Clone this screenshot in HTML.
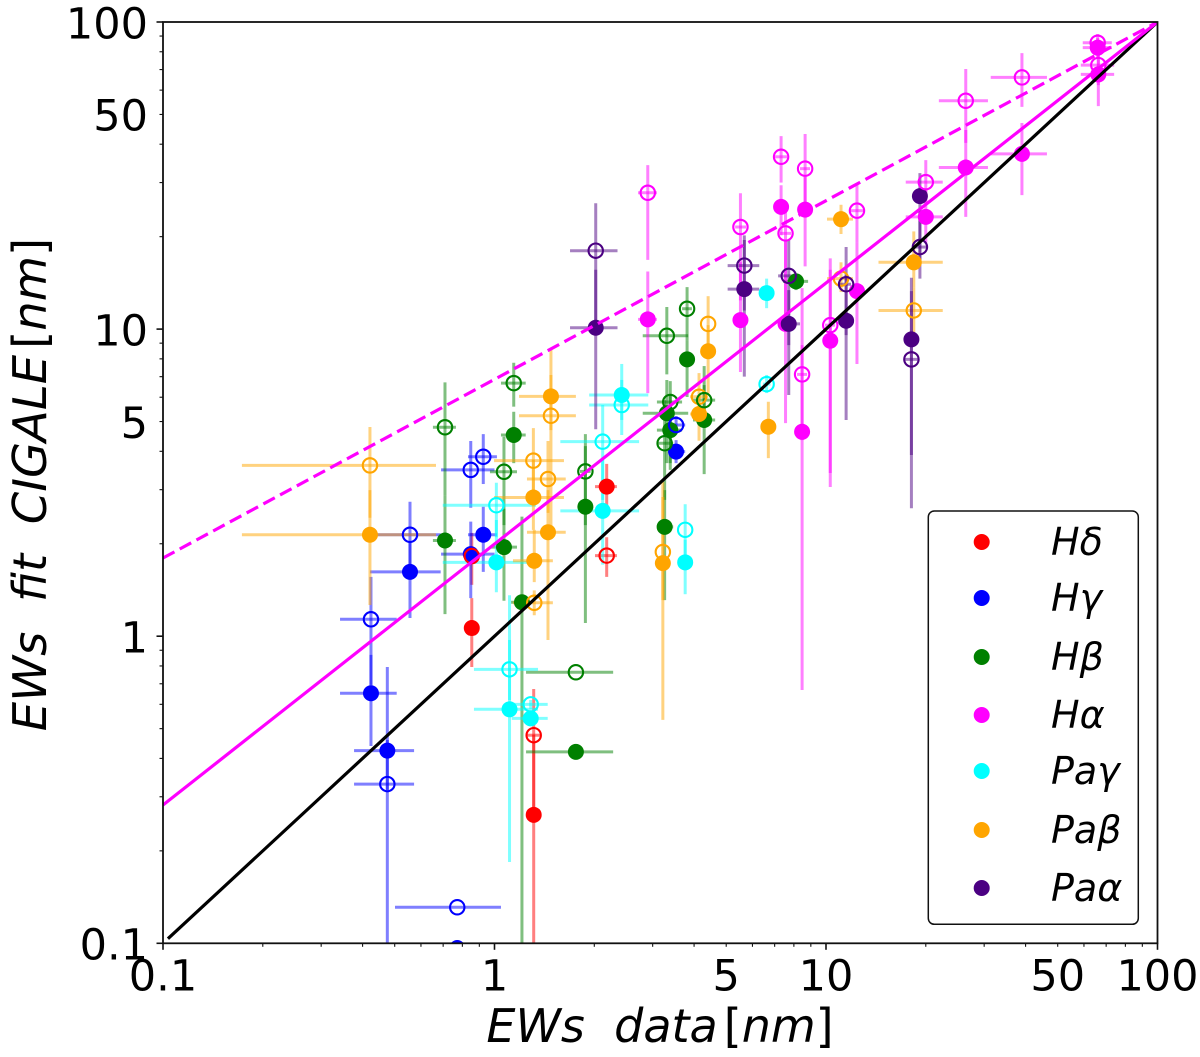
<!DOCTYPE html>
<html>
<head>
<meta charset="utf-8">
<title>EWs fit CIGALE vs EWs data</title>
<style>
html,body{margin:0;padding:0;background:#fff;}
svg{display:block;}
text{font-family:"DejaVu Sans","Liberation Sans",sans-serif;fill:#000;}
.math{font-style:italic;white-space:pre;}
.up{font-style:normal;}
</style>
</head>
<body>
<svg id="chart" xmlns="http://www.w3.org/2000/svg" width="1200" height="1057" viewBox="0 0 1200 1057">
  <defs><clipPath id="plot-clip"><rect x="163" y="22" width="994.5" height="921.3"/></clipPath></defs>
  <rect x="163" y="22" width="994.5" height="921.3" fill="#fff"/>
  <g id="bars" clip-path="url(#plot-clip)"></g>
  <g id="filled" clip-path="url(#plot-clip)"></g>
  <g id="open" clip-path="url(#plot-clip)"></g>
  <g id="lines" clip-path="url(#plot-clip)"></g>
  <g id="ticks"></g>
  <rect x="163" y="22" width="994.5" height="921.3" fill="none" stroke="#111" stroke-width="1.8"/>
  <text class="math" x="660" y="1042" text-anchor="middle" font-size="46">EWs  data<tspan class="up" dx="6">[</tspan>nm<tspan class="up">]</tspan></text>
  <text class="math" transform="translate(46,484.5) rotate(-90)" text-anchor="middle" font-size="46.5">EWs  fit  CIGALE<tspan class="up" dx="6">[</tspan>nm<tspan class="up">]</tspan></text>
  <g>
    <rect x="928.3" y="511" width="210" height="413.3" rx="6" ry="6" fill="#fff" stroke="#111" stroke-width="1.5"/>
    <g id="legend-items"></g>
  </g>
</svg>
<script>
// Axis ticks
const xTickLabels = ["0.1", "1", "5", "10", "50", "100"];
const xTickValues = [0.1, 1, 5, 10, 50, 100];
const yTickLabels = ["0.1", "1", "5", "10", "50", "100"];
const yTickValues = [0.1, 1, 5, 10, 50, 100];
const decades = [0.1, 1, 10];
const minorMultiples = [2, 3, 4, 5, 6, 7, 8, 9];

// Reference lines: [x, y] end points
const oneToOneLine = [[0.1035, 0.1035], [100, 100]];
const solidFitLine = [[0.1, 0.282], [100, 100]];
const dashedFitLine = [[0.1, 1.797], [100, 100]];

// H delta
const hdX = [0.854, 2.18, 1.313];
const hdXLo = [0.84, 2.01, 1.253];
const hdXHi = [0.87, 2.34, 1.372];
const hdFit = [1.063, 3.07, 0.262];
const hdFitLo = [0.794, 2.58, 0.095];
const hdFitHi = [1.33, 3.64, 0.477];
const hdOpen = [1.824, 1.83, 0.476];
const hdOpenLo = [1.47, 1.56, 0.272];
const hdOpenHi = [2.17, 2.10, 0.673];

// H gamma
const hgX = [0.424, 0.475, 0.556, 0.848, 0.925, 3.53, 0.772];
const hgXLo = [0.342, 0.377, 0.421, 0.690, 0.832, 3.34, 0.501];
const hgXHi = [0.507, 0.572, 0.688, 1.00, 1.017, 3.76, 1.046];
const hgFit = [0.652, 0.424, 1.62, 1.85, 2.14, 3.99, 0.0965];
const hgFitLo = [0.439, 0.316, 1.146, 1.33, 1.62, 3.66, 0.0965];
const hgFitHi = [0.869, 0.794, 2.03, 2.36, 2.64, 4.35, 0.0965];
const hgOpen = [1.135, 0.330, 2.14, 3.48, 3.84, 4.87, 0.131];
const hgOpenLo = [0.694, 0.095, 1.68, 2.62, 3.13, 4.55, 0.131];
const hgOpenHi = [1.56, 0.459, 2.74, 4.32, 4.55, 5.21, 0.131];

// H beta
const hbX = [0.709, 1.068, 1.143, 1.21, 1.88, 1.76, 3.26, 3.31, 3.39, 3.81, 4.29, 8.12];
const hbXLo = [0.652, 0.969, 1.046, 1.122, 1.81, 1.245, 3.09, 2.80, 3.09, 3.68, 3.97, 7.42];
const hbXHi = [0.765, 1.169, 1.242, 1.28, 1.95, 2.28, 3.46, 3.84, 3.68, 3.94, 4.63, 8.83];
const hbFit = [2.05, 1.95, 4.52, 1.29, 2.64, 0.42, 2.27, 5.32, 4.69, 7.97, 5.06, 14.3];
const hbFitLo = [1.18, 1.305, 3.66, 0.095, 1.104, 0.42, 1.31, 3.66, 3.48, 6.01, 3.37, 13.4];
const hbFitHi = [2.88, 2.60, 5.38, 2.45, 4.16, 0.42, 2.99, 6.83, 6.10, 9.21, 6.57, 15.1];
const hbOpen = [4.79, 3.43, 6.67, null, 3.44, 0.763, 4.25, 9.51, 5.79, 11.65, 5.87, null];
const hbOpenLo = [2.88, 2.30, 5.59, null, 2.30, 0.763, 2.78, 7.12, 3.66, 9.21, 5.06, null];
const hbOpenHi = [6.71, 4.46, 7.77, null, 4.55, 0.763, 5.87, 11.8, 6.77, 13.7, 7.58, null];

// H alpha
const haX = [2.90, 5.52, 7.32, 8.65, 7.55, 8.47, 10.3, 12.4, 20.0, 26.4, 39.0, 66.3, 66.0];
const haXLo = [2.71, 5.32, 7.02, 8.35, 7.27, 8.18, 9.93, 11.8, 17.4, 21.9, 31.4, 58.7, 59.5];
const haXHi = [3.09, 5.74, 7.63, 8.95, 7.85, 8.77, 10.65, 13.0, 22.5, 30.8, 46.4, 74.0, 72.8];
const haFit = [10.76, 10.7, 25.0, 24.5, 10.4, 4.63, 9.17, 13.3, 23.2, 33.6, 37.2, 67.5, 82.5];
const haFitLo = [6.19, 7.25, 20.2, 16.0, 4.94, 0.668, 3.06, 7.70, 19.1, 23.2, 27.3, 53.2, 76.3];
const haFitHi = [15.4, 16.5, 29.4, 31.3, 19.5, 8.87, 15.6, 19.1, 28.4, 44.5, 46.9, 81.0, 88.6];
const haOpen = [27.8, 21.5, 36.4, 33.3, 20.5, 7.12, 10.3, 24.3, 30.1, 55.4, 66.0, 72.4, 85.6];
const haOpenLo = [16.8, 12.4, 30.0, 25.7, 9.93, 4.35, 3.40, 19.1, 25.4, 40.4, 52.9, 62.3, 79.8];
const haOpenHi = [34.2, 27.7, 42.5, 43.2, 24.4, 13.6, 17.0, 29.9, 35.5, 70.3, 79.2, 86.1, 91.4];

// Pa gamma
const pgX = [1.11, 1.286, 1.013, 2.12, 2.42, 3.76, 6.62];
const pgXLo = [0.867, 1.127, 0.698, 1.58, 1.93, 3.76, 6.45];
const pgXHi = [1.353, 1.447, 1.334, 2.73, 2.91, 3.76, 6.80];
const pgFit = [0.578, 0.54, 1.74, 2.56, 6.10, 1.74, 13.1];
const pgFitLo = [0.184, 0.53, 1.39, 1.71, 5.06, 1.37, 11.7];
const pgFitHi = [0.972, 0.55, 2.39, 3.75, 7.70, 2.06, 14.6];
const pgOpen = [0.78, 0.60, 2.67, 4.30, 5.66, 2.22, 6.62];
const pgOpenLo = [0.62, 0.58, 2.10, 2.78, 4.52, 1.84, 6.19];
const pgOpenHi = [1.36, 0.62, 3.16, 5.66, 6.83, 2.69, 7.09];

// Pa beta
const pbX = [0.421, 1.31, 1.318, 1.45, 1.48, 3.22, 4.14, 4.41, 6.70, 11.1, 18.4];
const pbXLo = [0.173, 0.997, 1.137, 1.253, 1.186, 3.22, 3.89, 4.41, 6.70, 10.07, 14.4];
const pbXHi = [0.666, 1.62, 1.50, 1.64, 1.76, 3.22, 4.41, 4.41, 6.70, 12.06, 22.5];
const pbFit = [2.14, 2.83, 1.76, 2.18, 6.04, 1.73, 5.29, 8.47, 4.81, 22.8, 16.5];
const pbFitLo = [1.264, 2.22, 1.50, 0.972, 4.69, 0.534, 4.33, 6.19, 3.80, 20.4, 13.7];
const pbFitHi = [2.99, 3.75, 2.22, 2.99, 8.55, 2.84, 6.10, 10.3, 5.80, 25.4, 20.8];
const pbOpen = [3.60, 3.73, 1.285, 3.25, 5.22, 1.88, 6.02, 10.4, null, 14.6, 11.5];
const pbOpenLo = [2.43, 2.99, 1.17, 2.52, 2.22, 1.31, 5.06, 8.42, null, 13.2, 9.78];
const pbOpenHi = [4.80, 4.76, 1.41, 4.32, 7.09, 3.18, 7.19, 12.8, null, 16.5, 13.7];

// Pa alpha
const paX = [2.02, 5.67, 7.72, 11.5, 18.1, 19.2];
const paXLo = [1.69, 5.05, 7.17, 11.0, 17.2, 18.3];
const paXHi = [2.35, 6.29, 8.35, 11.9, 19.0, 20.1];
const paFit = [10.1, 13.5, 10.4, 10.65, 9.26, 27.1];
const paFitLo = [4.72, 7.0, 6.10, 5.06, 3.89, 16.8];
const paFitHi = [15.6, 19.5, 13.4, 15.0, 13.3, 32.2];
const paOpen = [18.0, 16.1, 14.9, 14.0, 7.97, 18.5];
const paOpenLo = [10.7, 11.5, 8.87, 9.56, 2.61, 14.6];
const paOpenHi = [25.7, 20.2, 19.5, 18.5, 14.7, 24.4];

// Series, in legend order
const series = [
  {key:"h-delta", label:"Hδ", color:"#ff0000", x:hdX, xLo:hdXLo, xHi:hdXHi, fit:hdFit, fitLo:hdFitLo, fitHi:hdFitHi, open:hdOpen, openLo:hdOpenLo, openHi:hdOpenHi},
  {key:"h-gamma", label:"Hγ", color:"#0000ff", x:hgX, xLo:hgXLo, xHi:hgXHi, fit:hgFit, fitLo:hgFitLo, fitHi:hgFitHi, open:hgOpen, openLo:hgOpenLo, openHi:hgOpenHi},
  {key:"h-beta", label:"Hβ", color:"#008000", x:hbX, xLo:hbXLo, xHi:hbXHi, fit:hbFit, fitLo:hbFitLo, fitHi:hbFitHi, open:hbOpen, openLo:hbOpenLo, openHi:hbOpenHi},
  {key:"h-alpha", label:"Hα", color:"#ff00ff", x:haX, xLo:haXLo, xHi:haXHi, fit:haFit, fitLo:haFitLo, fitHi:haFitHi, open:haOpen, openLo:haOpenLo, openHi:haOpenHi},
  {key:"pa-gamma", label:"Paγ", color:"#00ffff", x:pgX, xLo:pgXLo, xHi:pgXHi, fit:pgFit, fitLo:pgFitLo, fitHi:pgFitHi, open:pgOpen, openLo:pgOpenLo, openHi:pgOpenHi},
  {key:"pa-beta", label:"Paβ", color:"#ffa500", x:pbX, xLo:pbXLo, xHi:pbXHi, fit:pbFit, fitLo:pbFitLo, fitHi:pbFitHi, open:pbOpen, openLo:pbOpenLo, openHi:pbOpenHi},
  {key:"pa-alpha", label:"Paα", color:"#4b0082", x:paX, xLo:paXLo, xHi:paXHi, fit:paFit, fitLo:paFitLo, fitHi:paFitHi, open:paOpen, openLo:paOpenLo, openHi:paOpenHi}
];
const openDrawOrder = [5, 4, 3, 6, 2, 1, 0];

const NS = "http://www.w3.org/2000/svg";
const PLOT_LEFT = 163, PLOT_BOTTOM = 943.3, X_DECADE = 331.5, Y_DECADE = 307.1;
function xPx(v){ return PLOT_LEFT + (Math.log10(v) + 1) * X_DECADE; }
function yPx(v){ return PLOT_BOTTOM - (Math.log10(v) + 1) * Y_DECADE; }

function makeLine(parent, x1, y1, x2, y2, color, width, opacity){
  const el = document.createElementNS(NS, "line");
  el.setAttribute("x1", x1); el.setAttribute("y1", y1);
  el.setAttribute("x2", x2); el.setAttribute("y2", y2);
  el.setAttribute("stroke", color);
  el.setAttribute("stroke-width", width);
  if (opacity !== undefined) el.setAttribute("stroke-opacity", opacity);
  parent.appendChild(el);
  return el;
}
function makeCircle(parent, cx, cy, r, fill, stroke, sw){
  const el = document.createElementNS(NS, "circle");
  el.setAttribute("cx", cx); el.setAttribute("cy", cy); el.setAttribute("r", r);
  el.setAttribute("fill", fill);
  if (stroke) { el.setAttribute("stroke", stroke); el.setAttribute("stroke-width", sw); }
  parent.appendChild(el);
  return el;
}
function makeText(parent, x, y, str, size, anchor){
  const el = document.createElementNS(NS, "text");
  el.setAttribute("x", x); el.setAttribute("y", y);
  el.setAttribute("font-size", size);
  el.setAttribute("text-anchor", anchor);
  el.textContent = str;
  parent.appendChild(el);
  return el;
}

const barsG = document.getElementById("bars");
const filledG = document.getElementById("filled");
const openG = document.getElementById("open");
const linesG = document.getElementById("lines");
const ticksG = document.getElementById("ticks");
const legendG = document.getElementById("legend-items");

// Error bars
series.forEach(function(s){
  s.x.forEach(function(xv, i){
    const px = xPx(xv);
    [[s.fit, s.fitLo, s.fitHi], [s.open, s.openLo, s.openHi]].forEach(function(set){
      const yv = set[0][i];
      if (yv === null) return;
      const py = yPx(yv);
      if (s.xHi[i] !== s.xLo[i]) {
        const h = makeLine(barsG, xPx(s.xLo[i]), py, xPx(s.xHi[i]), py, s.color, 3, 0.5);
        
        
      }
      if (set[1][i] !== set[2][i]) {
        const v = makeLine(barsG, px, yPx(set[1][i]), px, yPx(set[2][i]), s.color, 3, 0.5);
        
        
      }
    });
  });
});

// Filled markers
series.forEach(function(s){
  s.x.forEach(function(xv, i){
    const c = makeCircle(filledG, xPx(xv), yPx(s.fit[i]), 8, s.color);
    
    
  });
});

// Open markers
openDrawOrder.forEach(function(idx){
  const s = series[idx];
  s.x.forEach(function(xv, i){
    if (s.open[i] === null) return;
    const c = makeCircle(openG, xPx(xv), yPx(s.open[i]), 7.2, "none", s.color, 2.1);
    
    
  });
});

// Reference lines
const blackLine = makeLine(linesG, xPx(oneToOneLine[0][0]), yPx(oneToOneLine[0][1]), xPx(oneToOneLine[1][0]), yPx(oneToOneLine[1][1]), "#000", 3.2);


const solidLine = makeLine(linesG, xPx(solidFitLine[0][0]), yPx(solidFitLine[0][1]), xPx(solidFitLine[1][0]), yPx(solidFitLine[1][1]), "#ff00ff", 3.2);


const dashedLine = makeLine(linesG, xPx(dashedFitLine[0][0]), yPx(dashedFitLine[0][1]), xPx(dashedFitLine[1][0]), yPx(dashedFitLine[1][1]), "#ff00ff", 3.2);
dashedLine.setAttribute("stroke-dasharray", "13 6");



// Ticks
decades.forEach(function(d){
  minorMultiples.forEach(function(m){
    const tx = makeLine(ticksG, xPx(d*m), PLOT_BOTTOM, xPx(d*m), PLOT_BOTTOM + 3.5, "#111", 1.1);
    
    
    const ty = makeLine(ticksG, PLOT_LEFT - 3.5, yPx(d*m), PLOT_LEFT, yPx(d*m), "#111", 1.1);
    
    
  });
});
decades.concat([100]).forEach(function(d){
  const tx = makeLine(ticksG, xPx(d), PLOT_BOTTOM, xPx(d), PLOT_BOTTOM + 6.5, "#111", 1.6);
  
  
  const ty = makeLine(ticksG, PLOT_LEFT - 6.5, yPx(d), PLOT_LEFT, yPx(d), "#111", 1.6);
  
  
});
xTickValues.forEach(function(v, i){
  const t = makeText(ticksG, xPx(v), 990.5, xTickLabels[i], 43, "middle");
  
  
});
yTickValues.forEach(function(v, i){
  const t = makeText(ticksG, 148, yPx(v) + 16.3, yTickLabels[i], 43, "end");
  
  
});

// Legend
const legendMarkerY = [542, 598, 657, 715, 771, 830, 888];
series.forEach(function(s, i){
  const m = makeCircle(legendG, 981.7, legendMarkerY[i], 8, s.color);
  
  
  const t = makeText(legendG, 1051, legendMarkerY[i] + 13, s.label, 38, "start");
  t.setAttribute("font-style", "italic");
  
  
});
</script>
</body>
</html>
